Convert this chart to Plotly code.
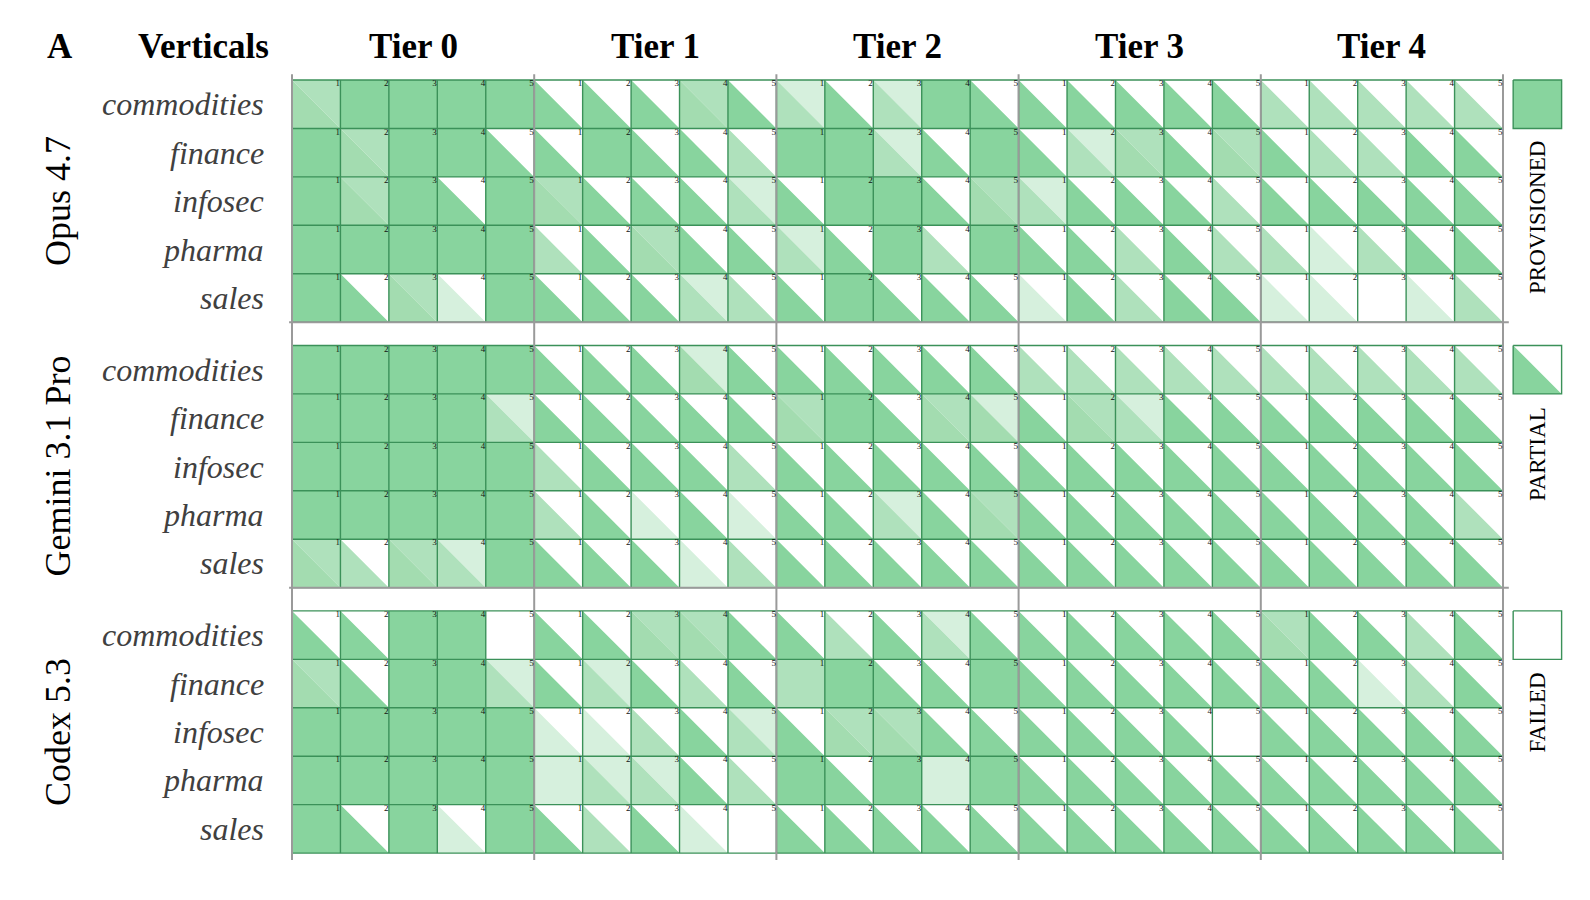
import plotly.graph_objects as go

MODELS = ["Opus 4.7", "Gemini 3.1 Pro", "Codex 5.3"]
VERTICALS = ["commodities", "finance", "infosec", "pharma", "sales"]
TIERS = ["Tier 0", "Tier 1", "Tier 2", "Tier 3", "Tier 4"]
RUNS = ["1", "2", "3", "4", "5"]
LEGEND_LABELS = ["PROVISIONED", "PARTIAL", "FAILED"]

# Each code: lower-left triangle level, upper-right triangle level (0 = white .. 4 = full green)
# One string per vertical (commodities, finance, infosec, pharma, sales), runs 1..5
OPUS_T0 = ["32 44 44 44 44", "44 32 44 44 40", "44 32 44 40 44", "44 44 44 44 44", "44 40 32 10 44"]
OPUS_T1 = ["40 40 40 32 40", "40 44 40 40 20", "32 40 40 40 21", "20 40 32 40 40", "40 40 40 21 20"]
OPUS_T2 = ["21 40 21 44 40", "44 44 21 40 44", "40 44 44 40 32", "21 40 44 20 44", "40 44 40 40 40"]
OPUS_T3 = ["40 40 40 40 40", "40 21 32 40 32", "21 40 40 40 20", "40 40 20 40 20", "10 40 20 40 40"]
OPUS_T4 = ["20 20 20 20 20", "40 20 20 40 40", "40 40 40 40 40", "20 10 20 40 40", "10 10 00 10 20"]

GEMINI_T0 = ["44 44 44 44 44", "44 44 44 44 21", "44 44 44 44 44", "44 44 44 44 44", "32 20 32 21 44"]
GEMINI_T1 = ["40 40 40 31 40", "40 40 40 40 40", "20 40 40 40 20", "20 40 10 40 10", "40 40 40 10 20"]
GEMINI_T2 = ["40 40 40 40 40", "32 44 40 32 31", "40 40 40 40 40", "40 40 21 40 32", "40 40 40 40 40"]
GEMINI_T3 = ["20 20 20 20 20", "40 32 21 40 40", "40 40 40 40 40", "40 40 40 40 40", "40 40 40 40 40"]
GEMINI_T4 = ["20 20 20 20 20", "40 40 40 40 40", "40 40 40 40 40", "40 40 40 40 20", "40 40 40 40 40"]

CODEX_T0 = ["40 40 44 44 00", "32 40 44 44 21", "44 44 44 44 44", "44 44 44 44 44", "44 40 44 10 44"]
CODEX_T1 = ["40 40 32 32 40", "40 21 40 20 40", "10 10 20 40 21", "11 21 21 40 20", "40 20 40 10 00"]
CODEX_T2 = ["40 20 40 21 40", "22 44 40 40 44", "40 32 32 40 40", "44 40 44 11 44", "40 40 40 40 40"]
CODEX_T3 = ["40 40 40 40 40", "40 40 40 40 40", "40 40 40 40 00", "40 40 40 40 40", "40 40 40 40 40"]
CODEX_T4 = ["32 40 40 20 40", "40 40 10 20 40", "40 40 40 40 40", "40 40 40 40 40", "40 40 40 40 40"]

DATA = {
    "Opus 4.7": [OPUS_T0, OPUS_T1, OPUS_T2, OPUS_T3, OPUS_T4],
    "Gemini 3.1 Pro": [GEMINI_T0, GEMINI_T1, GEMINI_T2, GEMINI_T3, GEMINI_T4],
    "Codex 5.3": [CODEX_T0, CODEX_T1, CODEX_T2, CODEX_T3, CODEX_T4],
}

LEVEL_COLORS = ["#FFFFFF", "#D6F0DD", "#AFE1BC", "#A3DCB0", "#88D49E"]
BORDER = "#3b9159"
SEP = "#9a9a9a"
FONT = "Liberation Serif, Times New Roman, serif"

W, H = 1590, 900
PX = 48.44          # pixels per cell
X0PX, Y0PX = 292, 80
GAP = 0.48          # gap between model blocks (cell units)

polys = {lv: ([], []) for lv in range(1, 5)}


def add_poly(lv, pts):
    xs, ys = polys[lv]
    for px, py in pts:
        xs.append(px)
        ys.append(py)
    xs.append(pts[0][0]); ys.append(pts[0][1])
    xs.append(None); ys.append(None)


num_x, num_y, num_t = [], [], []
bx, by = [], []
for m, model in enumerate(MODELS):
    top = m * (5 + GAP)
    for t, tier_rows in enumerate(DATA[model]):
        for r, row in enumerate(tier_rows):
            for k, code in enumerate(row.split()):
                lo, up = int(code[0]), int(code[1])
                x0 = t * 5 + k
                x1 = x0 + 1
                y0 = top + r
                y1 = y0 + 1
                if lo == up:
                    if lo > 0:
                        add_poly(lo, [(x0, y0), (x1, y0), (x1, y1), (x0, y1)])
                else:
                    if lo > 0:
                        add_poly(lo, [(x0, y0), (x0, y1), (x1, y1)])
                    if up > 0:
                        add_poly(up, [(x0, y0), (x1, y0), (x1, y1)])
                num_x.append(x1 - 0.01)
                num_y.append(y0 - 0.01)
                num_t.append(RUNS[k])
    # cell borders
    for r in range(6):
        bx += [0, 25, None]; by += [top + r, top + r, None]
    for c in range(26):
        bx += [c, c, None]; by += [top, top + 5, None]

fig = go.Figure()
for lv in range(1, 5):
    xs, ys = polys[lv]
    if xs:
        fig.add_trace(go.Scatter(x=xs, y=ys, mode="lines", fill="toself",
                                 fillcolor=LEVEL_COLORS[lv],
                                 line=dict(width=0, color="rgba(0,0,0,0)"),
                                 hoverinfo="skip", showlegend=False))

fig.add_trace(go.Scatter(x=bx, y=by, mode="lines", line=dict(color=BORDER, width=1.4),
                         hoverinfo="skip", showlegend=False))

# gray separators
sx, sy = [], []
for t in range(6):
    sx += [t * 5, t * 5, None]; sy += [-0.12, 3 * 5 + 2 * GAP + 0.14, None]
for m in range(2):
    yb = m * (5 + GAP) + 5
    sx += [-0.06, 25.12, None]; sy += [yb, yb, None]
fig.add_trace(go.Scatter(x=sx, y=sy, mode="lines", line=dict(color=SEP, width=2),
                         hoverinfo="skip", showlegend=False))

fig.add_trace(go.Scatter(x=num_x, y=num_y, mode="text", text=num_t,
                         textposition="bottom left",
                         textfont=dict(family=FONT, size=9, color="#111"),
                         hoverinfo="skip", showlegend=False))

# legend swatches
LX0, LX1 = 25.21, 26.21
leg_fill = []
for i, lab in enumerate(LEGEND_LABELS):
    top = i * (5 + GAP)
    if i == 0:
        leg_fill.append([(LX0, top), (LX1, top), (LX1, top + 1), (LX0, top + 1)])
    elif i == 1:
        leg_fill.append([(LX0, top), (LX0, top + 1), (LX1, top + 1)])
xs, ys = [], []
for pts in leg_fill:
    for p in pts + [pts[0]]:
        xs.append(p[0]); ys.append(p[1])
    xs.append(None); ys.append(None)
fig.add_trace(go.Scatter(x=xs, y=ys, mode="lines", fill="toself", fillcolor=LEVEL_COLORS[4],
                         line=dict(width=0, color="rgba(0,0,0,0)"), hoverinfo="skip", showlegend=False))
xs, ys = [], []
for i in range(3):
    top = i * (5 + GAP)
    xs += [LX0, LX1, LX1, LX0, LX0, None]
    ys += [top, top, top + 1, top + 1, top, None]
fig.add_trace(go.Scatter(x=xs, y=ys, mode="lines", line=dict(color=BORDER, width=1.4),
                         hoverinfo="skip", showlegend=False))

ann = []
title_y = -0.70
ann.append(dict(x=(60 - X0PX) / PX, y=title_y, text="<b>A</b>", showarrow=False,
                font=dict(family=FONT, size=35, color="black"), xanchor="center", yanchor="middle"))
ann.append(dict(x=(203 - X0PX) / PX, y=title_y, text="<b>Verticals</b>", showarrow=False,
                font=dict(family=FONT, size=35, color="black"), xanchor="center", yanchor="middle"))
for t, tier in enumerate(TIERS):
    ann.append(dict(x=t * 5 + 2.5, y=title_y, text=f"<b>{tier}</b>", showarrow=False,
                    font=dict(family=FONT, size=35, color="black"), xanchor="center", yanchor="middle"))
for m, model in enumerate(MODELS):
    top = m * (5 + GAP)
    ann.append(dict(x=(58 - X0PX) / PX, y=top + 2.5, text=model, showarrow=False, textangle=-90,
                    font=dict(family=FONT, size=36, color="black"), xanchor="center", yanchor="middle"))
    for r, v in enumerate(VERTICALS):
        ann.append(dict(x=(266 - X0PX) / PX, y=top + r + 0.5, text=f"<i>{v}</i>", showarrow=False,
                        font=dict(family=FONT, size=32, color="#404040"), xanchor="right", yanchor="middle"))
    ann.append(dict(x=(LX0 + LX1) / 2, y=top + 1.22, text=LEGEND_LABELS[m], showarrow=False, textangle=-90,
                    font=dict(family=FONT, size=23, color="black"), xanchor="center", yanchor="top"))

fig.update_layout(
    width=W, height=H, margin=dict(l=0, r=0, t=0, b=0),
    paper_bgcolor="white", plot_bgcolor="white",
    xaxis=dict(range=[-X0PX / PX, (W - X0PX) / PX], visible=False, fixedrange=True),
    yaxis=dict(range=[(H - Y0PX) / PX, -Y0PX / PX], visible=False, fixedrange=True),
    annotations=ann, showlegend=False,
)

fig.write_html("out.html")
